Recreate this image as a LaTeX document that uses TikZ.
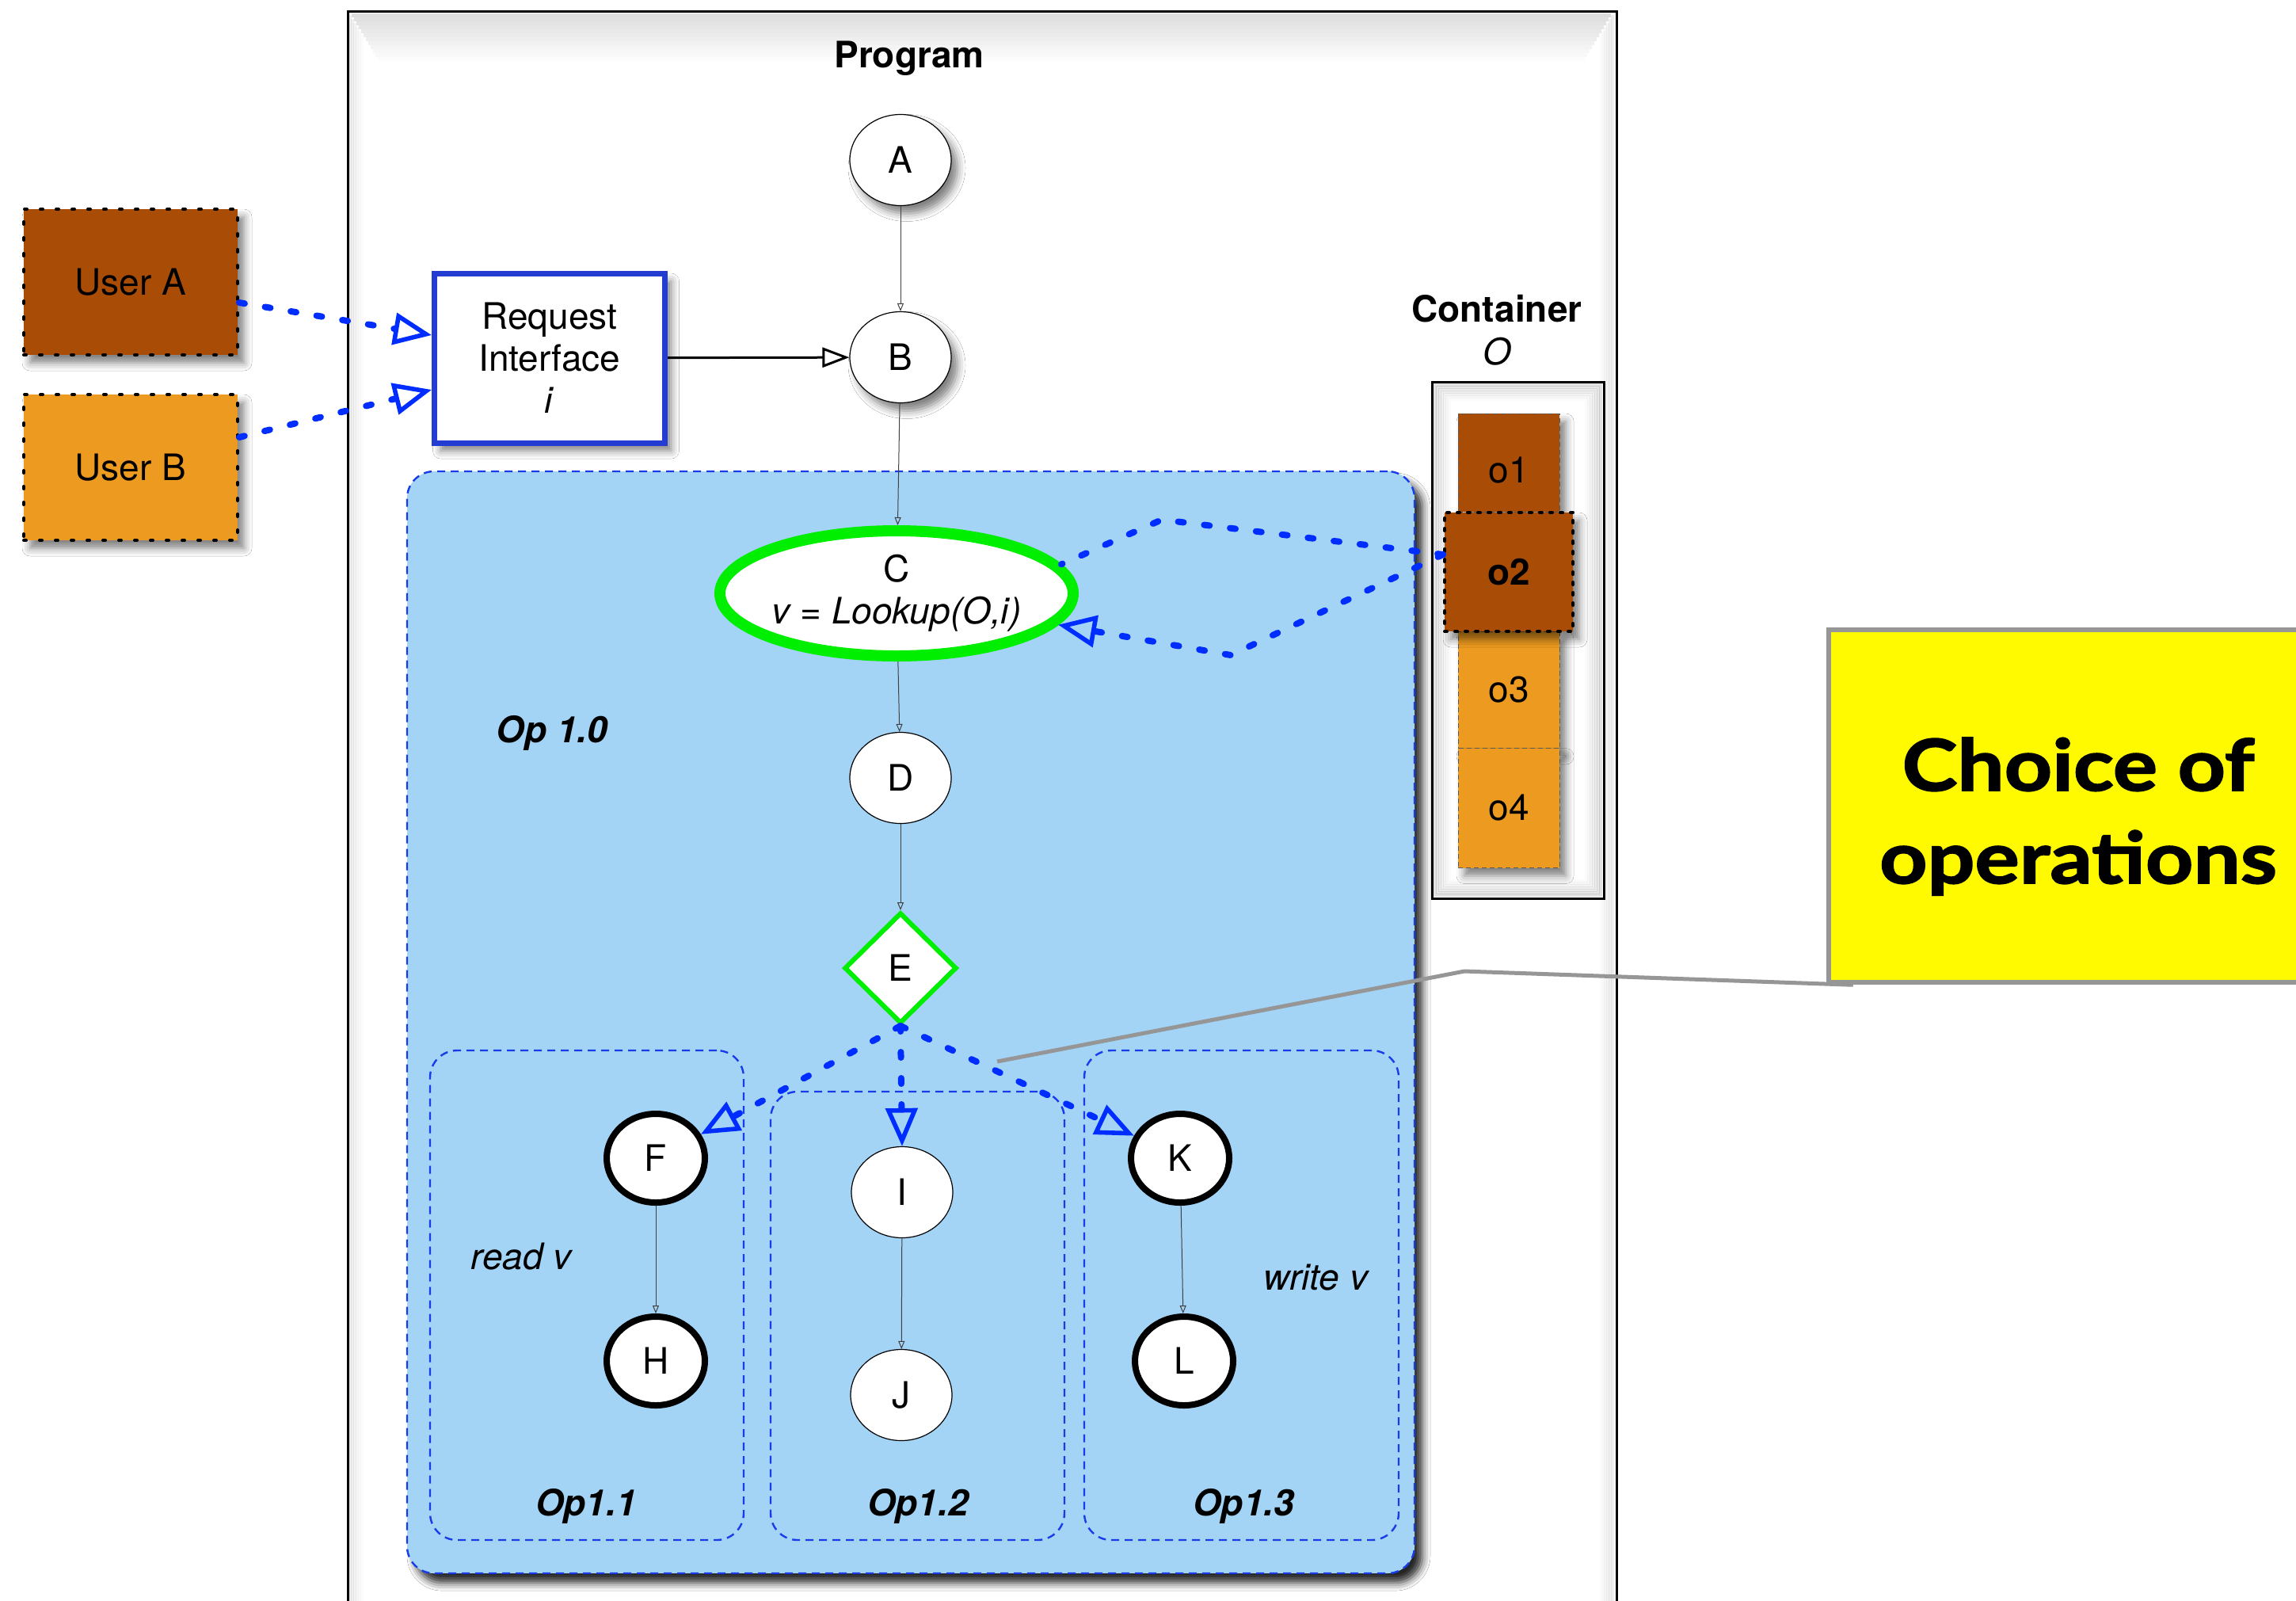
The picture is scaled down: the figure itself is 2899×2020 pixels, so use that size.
\documentclass[tikz,border=0pt]{standalone}
\usepackage{fontspec}
\setmainfont{TeX Gyre Heros}
\newfontfamily\calloutfont{Lato}[FakeStretch=1.17, FakeBold=2]
\usetikzlibrary{arrows.meta,shapes.geometric,shadows.blur}

\definecolor{userbrown}{RGB}{168,76,6}
\definecolor{userorange}{RGB}{236,154,32}
\definecolor{opfill}{RGB}{163,211,245}
\definecolor{opline}{RGB}{25,60,235}
\definecolor{flowblue}{RGB}{0,45,255}
\definecolor{ifblue}{RGB}{35,60,210}
\definecolor{choicegreen}{RGB}{0,238,0}
\definecolor{noteyellow}{RGB}{255,250,0}
\definecolor{notegray}{RGB}{150,150,150}

\tikzset{
  x=0.5pt, y=-0.5pt,
  basefont/.style={font=\fontsize{23}{26.5}\selectfont, inner sep=0pt},
  boldtxt/.style={font=\fontsize{23}{26.5}\selectfont\bfseries, inner sep=0pt},
  itxt/.style={font=\fontsize{23}{26.5}\selectfont\itshape, inner sep=0pt},
  bitxt/.style={font=\fontsize{23}{26.5}\selectfont\bfseries\itshape, inner sep=0pt},
  softshadow/.style={blur shadow={shadow xshift=4pt, shadow yshift=-5pt,
      shadow blur radius=5pt, shadow opacity=50}},
  bigshadow/.style={blur shadow={shadow xshift=5pt, shadow yshift=-6pt,
      shadow blur radius=5pt, shadow opacity=85}},
  plainstate/.style={basefont, ellipse, draw=black, line width=0.6pt, fill=white,
      minimum width=64pt, minimum height=57.5pt},
  boldstate/.style={basefont, ellipse, draw=black, line width=4pt, fill=white,
      minimum width=62pt, minimum height=56pt},
  userbox/.style={basefont, rectangle, draw=black, line width=2pt, line cap=round,
      dash pattern=on 1.5pt off 8.5pt, minimum width=135pt, minimum height=92pt, softshadow},
  objbox/.style={basefont, rectangle, draw=black!65, line width=0.5pt,
      dash pattern=on 3pt off 2pt, minimum width=64pt, softshadow},
  opbox/.style={draw=opline, fill=opfill, line width=1.2pt, dash pattern=on 5pt off 3.5pt,
      rounded corners=17pt, inner sep=0pt},
  flow/.style={draw=black!75, line width=0.5pt, -{Triangle[open, length=5pt, width=4pt]}},
  dotflow/.style={draw=flowblue, line width=4pt, line cap=round, dash pattern=on 3.5pt off 13pt},
  dotarrow/.style={dotflow, -{Triangle[open, length=24pt, width=20pt, line width=2.8pt]}},
  reqarrow/.style={draw=black, line width=1.5pt,
      -{Triangle[open, length=17pt, width=12.5pt, line width=1.5pt]}},
}

\begin{document}
\begin{tikzpicture}
\useasboundingbox (0,0) rectangle (2899,2020);
\clip (0,0) rectangle (2899,2020);
\fill[white] (0,0) rectangle (2899,2020);

% program frame with a soft inner glow
\node[draw=black, line width=1.5pt, fill=white, anchor=north west, inner sep=0pt,
      minimum width=801pt, minimum height=1045pt] (prog) at (438,13) {};
\foreach \d in {0,...,11} {
  \pgfmathsetmacro\op{0.011*(12-\d)}
  \draw[black, opacity=\op, line width=2.5pt] (444+3*\d,19+5*\d) -- (2034-3*\d,19+5*\d);
}
\foreach \d in {0,...,5} {
  \pgfmathsetmacro\op{0.012*(6-\d)}
  \draw[black, opacity=\op, line width=1.6pt] (442+3*\d,19+5*\d) -- (442+3*\d,2100);
  \draw[black, opacity=\op, line width=1.6pt] (2036-3*\d,19+5*\d) -- (2036-3*\d,2100);
}
\node[boldtxt] (progtitle) at (1148,74) {Program};

% users and the request interface
\node[userbox, fill=userbrown] (ua) at (165,356) {User A};
\node[userbox, fill=userorange] (ub) at (165,590) {User B};
\node[basefont, rectangle, draw=ifblue, line width=3.5pt, fill=white, align=center,
      minimum width=145.5pt, minimum height=107pt, softshadow] (ri) at (694,452)
      {Request\\Interface\\\textit{i}};

% top of the program
\node[plainstate, softshadow] (A) at (1137,202) {A};
\node[plainstate, softshadow] (B) at (1137,451) {B};

% container O
\node[boldtxt] (conttitle) at (1890,390) {Container};
\node[itxt] (contname) at (1890,444) {O};
\node[draw=black, line width=1.5pt, fill=white, inner sep=0pt,
      minimum width=108.5pt, minimum height=326pt] (cont) at (1916.5,808) {};
\foreach \d in {0,...,6} {
  \pgfmathsetmacro\op{0.016*(7-\d)}
  \draw[black, opacity=\op, line width=2pt]
    (1812+3*\d,486+3*\d) rectangle (2021-3*\d,1130-3*\d);
}
\node[objbox, fill=userbrown, minimum height=62pt] (o1) at (1905,584)
      {\raisebox{-5pt}[\height][\depth]{o1}};
\node[objbox, fill=userorange, minimum height=74pt] (o3) at (1905,871) {o3};
\node[objbox, fill=userorange, minimum height=75.5pt] (o4) at (1905,1020) {o4};
\node[basefont, font=\fontsize{23}{26.5}\selectfont\bfseries, rectangle, fill=userbrown,
      draw=black, line width=2pt, line cap=round, dash pattern=on 1.5pt off 5pt,
      minimum width=81pt, minimum height=75pt, softshadow] (o2) at (1905,722) {o2};

% operation Op 1.0 and its three branches
\node[opbox, bigshadow, minimum width=636pt, minimum height=695.5pt] (op10) at (1150,1290.5) {};
\node[opbox, minimum width=198pt, minimum height=309pt] (op11) at (741,1635) {};
\node[opbox, minimum width=185.5pt, minimum height=283pt] (op12) at (1158.5,1661) {};
\node[opbox, minimum width=198.5pt, minimum height=309pt] (op13) at (1567.5,1635) {};

\node[bitxt] (op10lbl) at (697,925) {Op 1.0};
\node[bitxt] (op11lbl) at (740,1901) {Op1.1};
\node[bitxt] (op12lbl) at (1159,1901) {Op1.2};
\node[bitxt] (op13lbl) at (1570,1901) {Op1.3};
\node[itxt] (readlbl) at (658,1586) {read v};
\node[itxt] (writelbl) at (1661,1613) {write v};

\node[basefont, ellipse, draw=choicegreen, line width=7pt, fill=white, align=center,
      minimum width=223pt, minimum height=79pt] (C) at (1132,749)
      {C\\\textit{v = Lookup(O,i)}};
\node[plainstate] (D) at (1137,982) {D};
\node[basefont, diamond, draw=choicegreen, line width=3pt, fill=white,
      minimum width=71pt, minimum height=70pt] (E) at (1137,1222) {E};

\node[boldstate] (F) at (828,1462) {F};
\node[boldstate] (H) at (828,1718) {H};
\node[plainstate] (I) at (1139,1505) {I};
\node[plainstate] (J) at (1138,1761) {J};
\node[boldstate] (K) at (1490,1462) {K};
\node[boldstate] (L) at (1495,1718) {L};

% control flow
\draw[flow] (A) -- (B);
\draw[flow] (B) -- (C);
\draw[flow] (C) -- (D);
\draw[flow] (D) -- (E);
\draw[flow] (F) -- (H);
\draw[flow] (I) -- (J);
\draw[flow] (K) -- (L);
\draw[reqarrow] (ri) -- (B);

% requests from the users
\draw[dotarrow] ([yshift=-13pt]ua.east) -- ([yshift=14.5pt]ri.west);
\draw[dotarrow] ([yshift=19pt]ub.east) -- ([yshift=-20pt]ri.west);

% lookup of the object in the container
\coordinate (upbend) at (1467,656);
\coordinate (lowbend) at (1554,827);
\draw[dotflow] ([yshift=11pt]o2.west) -- (upbend) -- (C.10);
\draw[dotarrow] ([yshift=11pt]o2.west) -- (lowbend) -- (C.-11);

% branches of the choice
\draw[dotarrow] (E.south) -- (F.28);
\draw[dotarrow] (E.south) -- (I.north);
\draw[dotarrow] (E.south) -- (K.154);

% callout
\node[draw=notegray, line width=3.25pt, fill=noteyellow, inner sep=0pt,
      minimum width=313pt, minimum height=222.5pt] (note) at (2622,1017.5) {};
\node[anchor=base, inner sep=0pt, font=\calloutfont\fontsize{45}{50}\selectfont\bfseries]
      (notetop) at (2624,998) {Choice of};
\node[anchor=base, inner sep=0pt, font=\calloutfont\fontsize{45}{50}\selectfont\bfseries]
      (notebottom) at (2624,1115) {operations};
\coordinate (calloutstart) at (1259,1340);
\coordinate (calloutbend) at (1849,1226);
\draw[notegray, line width=2.5pt] (calloutstart) -- (calloutbend) -- ([xshift=17pt]note.south west);
\end{tikzpicture}
\end{document}
